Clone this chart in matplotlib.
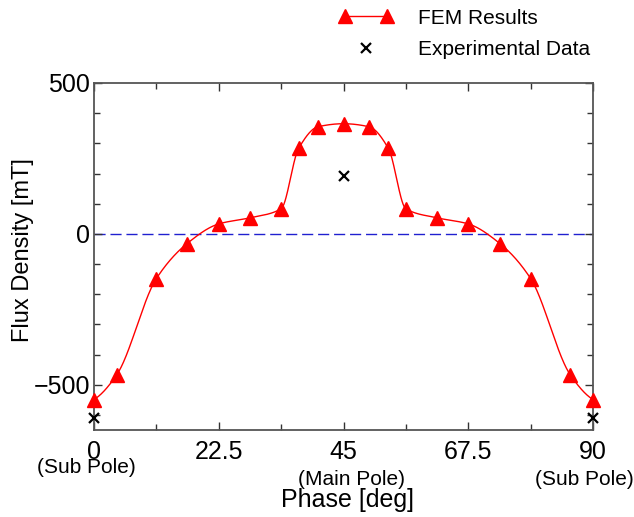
import numpy as np
import matplotlib
matplotlib.use('Agg')
import matplotlib.pyplot as plt
from matplotlib.legend_handler import HandlerLine2D

plt.rcParams['font.family'] = ['Liberation Sans', 'DejaVu Sans']

# FEM results (phase in deg, flux density in mT)
phase_fem = [0, 4.1, 11.25, 16.8, 22.5, 28.1, 33.75, 36.9, 40.4, 45,
             49.6, 53.1, 56.25, 61.9, 67.5, 73.2, 78.75, 85.9, 90]
flux_fem = [-549, -467, -148, -32, 33, 53, 83, 283, 355, 365,
            355, 283, 83, 53, 33, -32, -148, -467, -549]

# experimental data
phase_exp = [0, 45, 90]
flux_exp = [-610, 192, -610]

x_ticks = [0, 22.5, 45, 67.5, 90]
x_tick_labels = ['0', '22.5', '45', '67.5', '90']
pole_labels = ['(Sub Pole)', '(Main Pole)', '(Sub Pole)']
pole_x = [-1.4, 46.4, 88.4]
pole_y = [-0.107, -0.143, -0.143]


def pchip(x, y, xs):
    # shape preserving piecewise cubic interpolation
    x = np.asarray(x, float)
    y = np.asarray(y, float)
    h = np.diff(x)
    delta = np.diff(y) / h
    n = len(x)
    d = np.zeros(n)
    for k in range(1, n - 1):
        if delta[k - 1] * delta[k] > 0:
            w1 = 2 * h[k] + h[k - 1]
            w2 = h[k] + 2 * h[k - 1]
            d[k] = (w1 + w2) / (w1 / delta[k - 1] + w2 / delta[k])

    def end_slope(h0, h1, d0, d1):
        s = ((2 * h0 + h1) * d0 - h0 * d1) / (h0 + h1)
        if np.sign(s) != np.sign(d0):
            s = 0.0
        elif np.sign(d0) != np.sign(d1) and abs(s) > abs(3 * d0):
            s = 3 * d0
        return s

    d[0] = end_slope(h[0], h[1], delta[0], delta[1])
    d[-1] = end_slope(h[-1], h[-2], delta[-1], delta[-2])
    idx = np.clip(np.searchsorted(x, xs) - 1, 0, n - 2)
    hh = h[idx]
    t = (xs - x[idx]) / hh
    h00 = 2 * t ** 3 - 3 * t ** 2 + 1
    h10 = t ** 3 - 2 * t ** 2 + t
    h01 = -2 * t ** 3 + 3 * t ** 2
    h11 = t ** 3 - t ** 2
    return (h00 * y[idx] + h10 * hh * d[idx] + h01 * y[idx + 1]
            + h11 * hh * d[idx + 1])


xs = np.linspace(0, 90, 900)
ys = pchip(phase_fem, flux_fem, xs)

fig = plt.figure(figsize=(6.34, 5.17), dpi=100)
ax = fig.add_axes([0.1483, 0.1683, 0.7870, 0.6712])

ax.axhline(0, color='#2020d0', linestyle=(0, (8, 3.5)), linewidth=1.0, zorder=1)
ax.plot(xs, ys, color='red', linewidth=1.0, zorder=2)
ax.plot(phase_fem, flux_fem, linestyle='none', marker='^', markersize=10,
        color='red', zorder=3, clip_on=False)
# legend proxies
fem_handle, = ax.plot([], [], color='red', linewidth=1.0, marker='^', markersize=10)
exp_handle, = ax.plot(phase_exp, flux_exp, linestyle='none', marker='x', markersize=7,
                      markeredgewidth=1.6, color='black', zorder=4, clip_on=False)

ax.set_xlim(0, 90)
ax.set_ylim(-650, 500)
ax.set_xticks(x_ticks)
ax.set_xticklabels(x_tick_labels)
ax.set_xticks(np.arange(0, 90.1, 11.25), minor=True)
ax.set_yticks([-500, 0, 500])
ax.set_yticklabels(['\u2212500', '0', '500'])
ax.set_yticks(np.arange(-600, 501, 100), minor=True)
ax.tick_params(which='both', direction='in', top=True, right=True,
               color='#333333', labelsize=18)
ax.tick_params(which='major', length=6, width=1)
ax.tick_params(which='minor', length=4, width=1)
ax.tick_params(axis='x', pad=7)
ax.tick_params(axis='y', pad=3)
for s in ax.spines.values():
    s.set_color('#555555')
    s.set_linewidth(1.3)

for px, py, lab in zip(pole_x, pole_y, pole_labels):
    ax.text(px, py, lab, transform=ax.get_xaxis_transform(),
            ha='center', va='center', fontsize=15)

ax.set_xlabel('Phase [deg]', fontsize=18, va='center')
ax.xaxis.set_label_coords(0.509, -0.203)
ax.set_ylabel('Flux Density [mT]', fontsize=17, va='center')
ax.yaxis.set_label_coords(-0.142, 0.519)

fig.legend([fem_handle, exp_handle], ['FEM Results', 'Experimental Data'],
           loc='upper left', bbox_to_anchor=(0.516, 0.983), frameon=False,
           borderpad=0, borderaxespad=0,
           fontsize=15, handlelength=3.75, handletextpad=0.62, labelspacing=0.6,
           handler_map={fem_handle: HandlerLine2D(numpoints=2, marker_pad=0.87),
                        exp_handle: HandlerLine2D(numpoints=1)})

fig.savefig('out.png', dpi=100)
